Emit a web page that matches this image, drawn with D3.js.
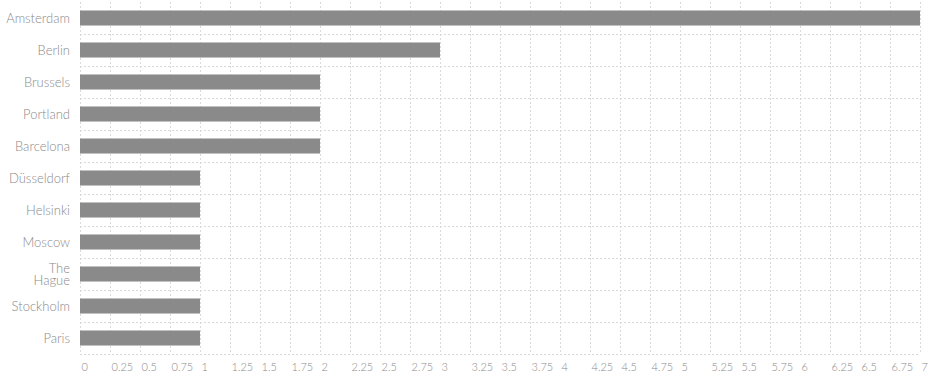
<!DOCTYPE html>
<html><head><meta charset="utf-8">
<script src="https://cdn.jsdelivr.net/npm/d3@7"></script>
<style>
body{margin:0;background:#fff;}
text{font-family:Lato,"Open Sans",sans-serif;font-weight:300;}
</style></head>
<body><svg id="c" width="935" height="380"></svg>
<script>
const cities = ["Amsterdam","Berlin","Brussels","Portland","Barcelona","Düsseldorf","Helsinki","Moscow","The Hague","Stockholm","Paris"];
const counts = [7,3,2,2,2,1,1,1,1,1,1];
const tickValues = d3.range(0, 7.001, 0.25);
const tickLabels = tickValues.map(v => String(+v.toFixed(2)));

const svg = d3.select("#c");
const x = d3.scaleLinear().domain([0,7]).range([80,920]);
const y = d3.scaleBand().domain(cities).range([2,354]).paddingInner(0.53).paddingOuter(0.265);
const step = y.step();

const grid = svg.append("g").attr("stroke","#d9d9d9").attr("stroke-dasharray","2,2").attr("stroke-width",1);
grid.selectAll("line.v").data(tickValues).join("line")
  .attr("x1",d=>Math.round(x(d))+0.5).attr("x2",d=>Math.round(x(d))+0.5)
  .attr("y1",2).attr("y2",354);
grid.selectAll("line.h").data(cities).join("line")
  .attr("x1",80).attr("x2",920)
  .attr("y1",d=>Math.round(y(d)+y.bandwidth()+(step-y.bandwidth())/2)+0.5)
  .attr("y2",d=>Math.round(y(d)+y.bandwidth()+(step-y.bandwidth())/2)+0.5);

svg.append("g").selectAll("rect").data(cities).join("rect")
  .attr("x",x(0)).attr("y",d=>y(d))
  .attr("width",(d,i)=>x(counts[i])-x(0)).attr("height",y.bandwidth())
  .attr("fill","#8a8a8a");

const lab = svg.append("g").attr("fill","#8a8a8a").attr("font-size",13).attr("text-anchor","end");
cities.forEach(c=>{
  const cy = y(c)+y.bandwidth()/2;
  const words = c==="The Hague" ? ["The","Hague"] : [c];
  const t = lab.append("text").attr("x",70);
  words.forEach((w,i)=>{
    t.append("tspan").attr("x",70)
     .attr("y",cy + 4.5 + (i-(words.length-1)/2)*12)
     .text(w);
  });
});

const xAxis = d3.axisBottom(x).tickValues(tickValues).tickFormat((d,i)=>tickLabels[i]).tickSize(0);
const ax = svg.append("g").attr("transform","translate(0,362)").call(xAxis);
ax.select(".domain").remove();
ax.selectAll("text").attr("fill","#8a8a8a").attr("font-size",11).attr("text-anchor","start").attr("dx","1").attr("dy","0.55em")
  .style("font-family","Lato,sans-serif").style("font-weight","300");
</script></body></html>
